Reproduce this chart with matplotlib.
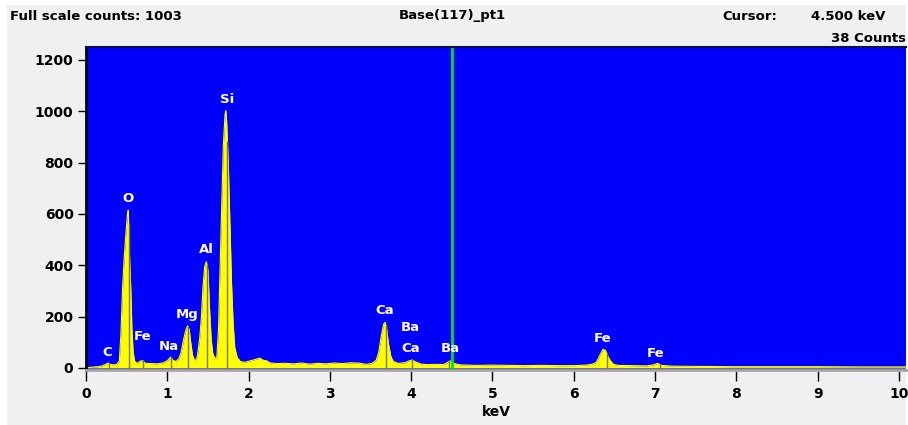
import numpy as np
import matplotlib
matplotlib.use("Agg")
import matplotlib.pyplot as plt
from matplotlib.patches import Rectangle

# EDS spectrum, energy (keV) vs. counts
energy_kev = [
    0.00, 0.05, 0.10, 0.15, 0.20, 0.24, 0.27, 0.30, 0.34, 0.38,
    0.41, 0.43, 0.45, 0.47, 0.49, 0.51, 0.52, 0.535, 0.55, 0.565,
    0.58, 0.60, 0.63, 0.67, 0.70, 0.73, 0.80, 0.88, 0.95, 1.00,
    1.04, 1.07, 1.10, 1.14, 1.17, 1.20, 1.23, 1.25, 1.27, 1.29,
    1.31, 1.34, 1.37, 1.40, 1.42, 1.44, 1.46, 1.48, 1.50, 1.52,
    1.54, 1.56, 1.59, 1.61, 1.63, 1.65, 1.67, 1.69, 1.71, 1.72,
    1.73, 1.75, 1.77, 1.79, 1.81, 1.83, 1.86, 1.90, 1.95, 2.00,
    2.05, 2.10, 2.14, 2.18, 2.22, 2.26, 2.35, 2.45, 2.55, 2.65,
    2.75, 2.85, 2.95, 3.05, 3.15, 3.25, 3.35, 3.45, 3.52, 3.57,
    3.60, 3.63, 3.66, 3.68, 3.70, 3.72, 3.75, 3.78, 3.84, 3.92,
    3.98, 4.01, 4.05, 4.12, 4.20, 4.30, 4.40, 4.45, 4.48, 4.52,
    4.60, 4.80, 5.00, 5.20, 5.40, 5.60, 5.80, 6.00, 6.15, 6.22,
    6.27, 6.30, 6.33, 6.36, 6.39, 6.42, 6.45, 6.49, 6.55, 6.70,
    6.90, 6.98, 7.03, 7.08, 7.20, 7.50, 8.00, 8.50, 9.00, 9.50,
    10.00, 10.10,
]
counts = [
    0, 2, 4, 5, 8, 14, 19, 14, 12, 14,
    28, 136, 312, 430, 520, 600, 615, 440, 316, 150,
    60, 25, 18, 27, 28, 18, 17, 16, 20, 28,
    42, 30, 25, 35, 60, 110, 150, 164, 150, 95,
    50, 25, 45, 120, 200, 320, 395, 414, 380, 230,
    110, 55, 35, 45, 150, 400, 640, 870, 985, 1003,
    960, 800, 560, 330, 170, 80, 40, 25, 22, 26,
    30, 35, 38, 30, 28, 20, 17, 18, 16, 19,
    15, 18, 16, 19, 17, 20, 19, 14, 18, 30,
    60, 120, 170, 178, 150, 95, 45, 25, 18, 20,
    28, 31, 24, 15, 13, 14, 13, 22, 28, 18,
    12, 10, 11, 10, 9, 10, 9, 9, 11, 14,
    20, 35, 55, 73, 68, 45, 28, 14, 10, 9,
    8, 12, 18, 10, 7, 6, 5, 5, 5, 4,
    4, 4,
]

# Identified X-ray lines (keV)
line_energy = [0.277, 0.525, 0.705, 1.041, 1.254, 1.487, 1.740,
               3.691, 4.013, 4.466, 6.404, 7.058]

# Peak labels
label_text = ["C", "O", "Fe", "Na", "Mg", "Al", "Si",
              "Ca", "Ba", "Ca", "Ba", "Fe", "Fe"]
label_x = [0.26, 0.52, 0.69, 1.02, 1.24, 1.48, 1.73,
           3.67, 3.99, 3.99, 4.48, 6.36, 7.01]
label_y = [62, 658, 121, 82, 210, 460, 1044,
           222, 156, 74, 74, 113, 58]

cursor_kev = 4.5
cursor_counts = 38
full_scale = 1003
spectrum_name = "Base(117)_pt1"

x_ticks = list(range(0, 11))
y_ticks = [0, 200, 400, 600, 800, 1000, 1200]

W, H = 908, 425
fig = plt.figure(figsize=(W / 100, H / 100), dpi=100, facecolor="white")
fig.patches.append(Rectangle((7 / W, 0), (906 - 7) / W, (H - 5) / H,
                             transform=fig.transFigure, facecolor="#f0f0f0",
                             edgecolor="none", zorder=-10))

ax = fig.add_axes([86 / W, (H - 370) / H, (906 - 86) / W, (370 - 47) / H])
ax.set_facecolor("#0000ff")
ax.set_xlim(0, 10.087)
ax.set_ylim(-8, 1250)

e = np.asarray(energy_kev, dtype=float)
c = np.asarray(counts, dtype=float)
ax.fill_between(e, 0, c, color="#ffff00", linewidth=0, zorder=2)
ax.plot(e, c, color="#ffff00", linewidth=0.8, zorder=2)

# Line markers up to the spectrum height
for le in line_energy:
    ax.plot([le, le], [0, np.interp(le, e, c)], color="#7d7a1c",
            linewidth=1.0, zorder=3)

# Cursor
ax.axvline(cursor_kev, color="#00e020", linewidth=2, zorder=4)

for t, x, y in zip(label_text, label_x, label_y):
    ax.text(x, y, t, color="white", fontsize=9.5, fontweight="bold",
            ha="center", va="center", zorder=5)

ax.set_xticks(x_ticks)
ax.set_yticks(y_ticks)
ax.set_xticklabels([str(v) for v in x_ticks])
ax.set_yticklabels([str(v) for v in y_ticks])
ax.tick_params(axis="both", direction="out", colors="black", width=1,
               labelsize=10)
ax.tick_params(axis="x", length=8, pad=4)
ax.tick_params(axis="y", length=6, pad=3)
for lab in ax.get_xticklabels() + ax.get_yticklabels():
    lab.set_fontweight("bold")

for side in ("top", "right"):
    ax.spines[side].set_visible(False)
ax.spines["left"].set_color("black")
ax.spines["left"].set_linewidth(2)
ax.spines["bottom"].set_color("#a8a8a8")
ax.spines["bottom"].set_linewidth(2)
ax.plot([0, 1], [1, 1], transform=ax.transAxes, color="#101040",
        linewidth=1.5, clip_on=False, zorder=6)

ax.set_xlabel("keV", fontsize=10, fontweight="bold", labelpad=3)

head = dict(fontsize=9.5, fontweight="bold", color="black", va="center")
fig.text(10 / W, 1 - 16 / H, f"Full scale counts: {full_scale}", ha="left", **head)
fig.text(452 / W, 1 - 16 / H, spectrum_name, ha="center", **head)
fig.text(722 / W, 1 - 17 / H, "Cursor:", ha="left", **head)
fig.text(885 / W, 1 - 17 / H, f"{cursor_kev:.3f} keV", ha="right", **head)
fig.text(906 / W, 1 - 38 / H, f"{cursor_counts} Counts", ha="right", **head)

fig.savefig("out.png", dpi=100, facecolor=fig.get_facecolor())
